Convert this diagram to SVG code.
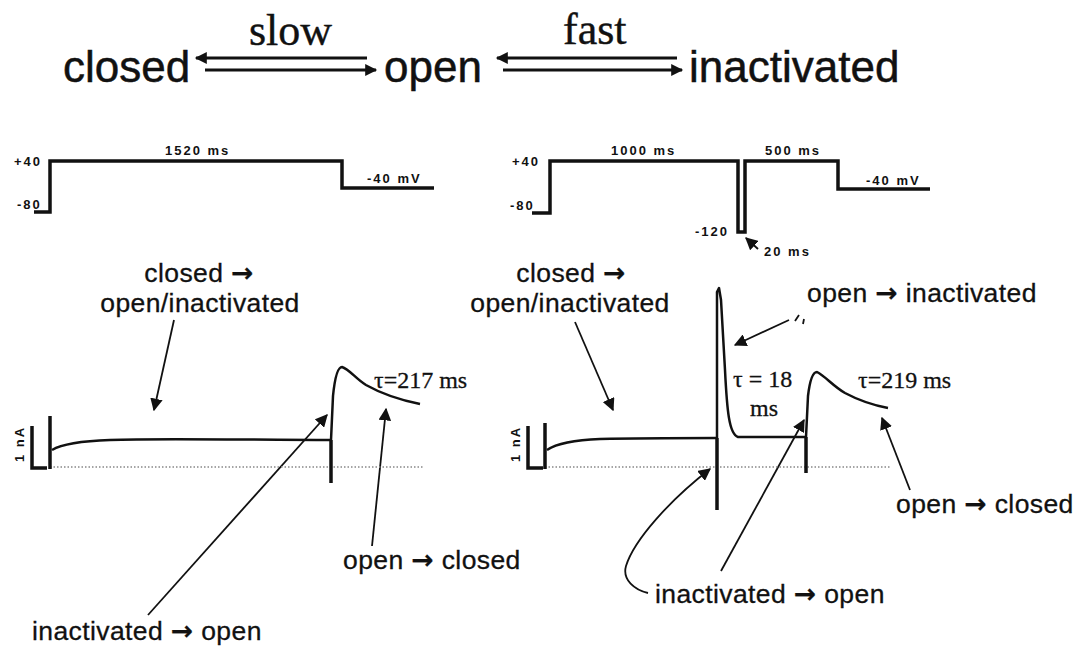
<svg xmlns="http://www.w3.org/2000/svg" width="1076" height="651" viewBox="0 0 1076 651">
<defs>
<style>
.title{font-family:"Liberation Sans",Arial,sans-serif;font-size:44px;fill:#111;stroke:#111;stroke-width:0.5}
.rate{font-family:"Liberation Serif","Times New Roman",serif;font-size:44px;fill:#111;stroke:#111;stroke-width:0.4}
.lab{font-family:"Liberation Sans",Arial,sans-serif;font-size:26.5px;letter-spacing:0.4px;fill:#111;stroke:#111;stroke-width:0.3}
.arr{font-family:"DejaVu Sans",sans-serif;font-weight:bold}
.tau{font-family:"Liberation Serif","Times New Roman",serif;font-size:24px;fill:#111;stroke:#111;stroke-width:0.3}
.prot{font-family:"Liberation Sans",Arial,sans-serif;font-size:13px;font-weight:bold;fill:#111;letter-spacing:2px}
.step{fill:none;stroke:#111;stroke-width:3.5}
.trace{fill:none;stroke:#111;stroke-width:2.5;stroke-linejoin:round}
.cap{fill:none;stroke:#111;stroke-width:3.5}
.base{fill:none;stroke:#888;stroke-width:1.5;stroke-dasharray:1.5 2}
.ann{fill:none;stroke:#111;stroke-width:1.8}
.eq{fill:none;stroke:#111;stroke-width:3}
</style>
<marker id="ah" viewBox="0 0 10 10" refX="9" refY="5" markerWidth="7" markerHeight="7" orient="auto" markerUnits="strokeWidth">
<path d="M0,0 L10,5 L0,10 z" fill="#111"/>
</marker>
<marker id="eh" viewBox="0 0 10 10" refX="9" refY="5" markerWidth="4.5" markerHeight="4" orient="auto" markerUnits="strokeWidth">
<path d="M0,0 L10,5 L0,10 z" fill="#111"/>
</marker>
</defs>
<rect width="1076" height="651" fill="#fff"/>

<g id="state-closed"><text class="title" x="63" y="82">closed</text></g>
<g id="state-open"><text class="title" x="384" y="82">open</text></g>
<g id="state-inactivated"><text class="title" x="689" y="82">inactivated</text></g>
<g id="rate-slow"><text class="rate" x="249" y="45">slow</text></g>
<g id="rate-fast"><text class="rate" x="563" y="44">fast</text></g>

<g id="connectors">
<line class="eq" x1="367" y1="58" x2="196" y2="58" marker-end="url(#eh)"/>
<line class="eq" x1="205" y1="70" x2="376" y2="70" marker-end="url(#eh)"/>
<line class="eq" x1="677" y1="58" x2="497" y2="58" marker-end="url(#eh)"/>
<line class="eq" x1="503" y1="70" x2="682" y2="70" marker-end="url(#eh)"/>

<line class="ann" x1="174" y1="320" x2="154" y2="410" marker-end="url(#ah)"/>
<line class="ann" x1="148" y1="615" x2="327" y2="415" marker-end="url(#ah)"/>
<line class="ann" x1="372" y1="546" x2="386" y2="409" marker-end="url(#ah)"/>

<line class="ann" x1="575" y1="322" x2="613" y2="410" marker-end="url(#ah)"/>
<line class="ann" x1="789" y1="320" x2="735" y2="345" marker-end="url(#ah)"/>
<path class="ann" d="M648,593 C635,590 622,580 626,566 C634,540 670,500 710,469" marker-end="url(#ah)"/>
<line class="ann" x1="721" y1="571" x2="804" y2="420" marker-end="url(#ah)"/>
<line class="ann" x1="910" y1="490" x2="882" y2="418" marker-end="url(#ah)"/>
<line class="ann" x1="758" y1="249" x2="746" y2="238" marker-end="url(#ah)"/>
<path class="ann" d="M795,321 l4,-6 M803,324 l1,-5" stroke-width="1.2"/>
</g>

<g id="protocol-left">
<path class="step" d="M34,212 H50 V161 H342 V188 H434"/>
<text class="prot" x="14" y="166">+40</text>
<text class="prot" x="17" y="209">-80</text>
<text class="prot" x="165" y="155">1520 ms</text>
<text class="prot" x="367" y="183">-40 mV</text>
</g>

<g id="protocol-right">
<path class="step" d="M532,213 H550 V161 H738 V232 H745 V161 H838 V189 H930"/>
<text class="prot" x="512" y="166">+40</text>
<text class="prot" x="510" y="210">-80</text>
<text class="prot" x="611" y="155">1000 ms</text>
<text class="prot" x="765" y="155">500 ms</text>
<text class="prot" x="695" y="236">-120</text>
<text class="prot" x="764" y="256">20 ms</text>
<text class="prot" x="866" y="185">-40 mV</text>
</g>

<g id="trace-left">
<text class="prot" font-size="12" letter-spacing="0" transform="translate(24,462) rotate(-90)">1 nA</text>
<path class="cap" d="M32,426 V468 H47"/>
<line class="base" x1="50" y1="467" x2="424" y2="467"/>
<path class="cap" d="M50,416 V469"/>
<path class="trace" d="M52,450 C62,444 80,441 110,440 C160,438 250,440 331,440"/>
<path class="cap" d="M331,440 V483"/>
<path class="trace" d="M331,440 L333,396 C335,376 338,367 342,367 C349,369 356,379 366,385 C382,394 400,400 420,404"/>
</g>

<g id="trace-right">
<text class="prot" font-size="12" letter-spacing="0" transform="translate(520,462) rotate(-90)">1 nA</text>
<path class="cap" d="M528,426 V468 H543"/>
<line class="base" x1="545" y1="467" x2="890" y2="467"/>
<path class="cap" d="M545,423 V469"/>
<path class="trace" d="M547,450 C556,444 574,440 600,439 C640,438 690,438 717,438"/>
<path class="cap" d="M717,438 V510"/>
<path class="trace" d="M717,438 V292 L719,288 L721,300 L725,370 C727,410 729,434 738,437 L806,437"/>
<path class="cap" d="M806,437 V473"/>
<path class="trace" d="M806,437 L808,396 C810,379 813,372 817,372 C825,376 833,386 845,393 C860,401 872,405 888,408"/>
</g>

<g id="label-left-closed"><text class="lab" x="199" y="282" text-anchor="middle">closed <tspan class="arr">→</tspan></text><text class="lab" x="200" y="312" text-anchor="middle">open/inactivated</text></g>
<g id="label-left-tau"><text class="tau" x="374" y="388">τ=217 ms</text></g>
<g id="label-left-openclosed"><text class="lab" x="343" y="569">open <tspan class="arr">→</tspan> closed</text></g>
<g id="label-left-inactopen"><text class="lab" x="32" y="640">inactivated <tspan class="arr">→</tspan> open</text></g>

<g id="label-right-closed"><text class="lab" x="571" y="282" text-anchor="middle">closed <tspan class="arr">→</tspan></text><text class="lab" x="570" y="312" text-anchor="middle">open/inactivated</text></g>
<g id="label-right-openinact"><text class="lab" x="807" y="302">open <tspan class="arr">→</tspan> inactivated</text></g>
<g id="label-right-tau18"><text class="tau" x="733" y="387">τ = 18</text><text class="tau" x="750" y="416">ms</text></g>
<g id="label-right-tau219"><text class="tau" x="858" y="388">τ=219 ms</text></g>
<g id="label-right-openclosed"><text class="lab" x="896" y="513">open <tspan class="arr">→</tspan> closed</text></g>
<g id="label-right-inactopen"><text class="lab" x="655" y="603">inactivated <tspan class="arr">→</tspan> open</text></g>
</svg>
